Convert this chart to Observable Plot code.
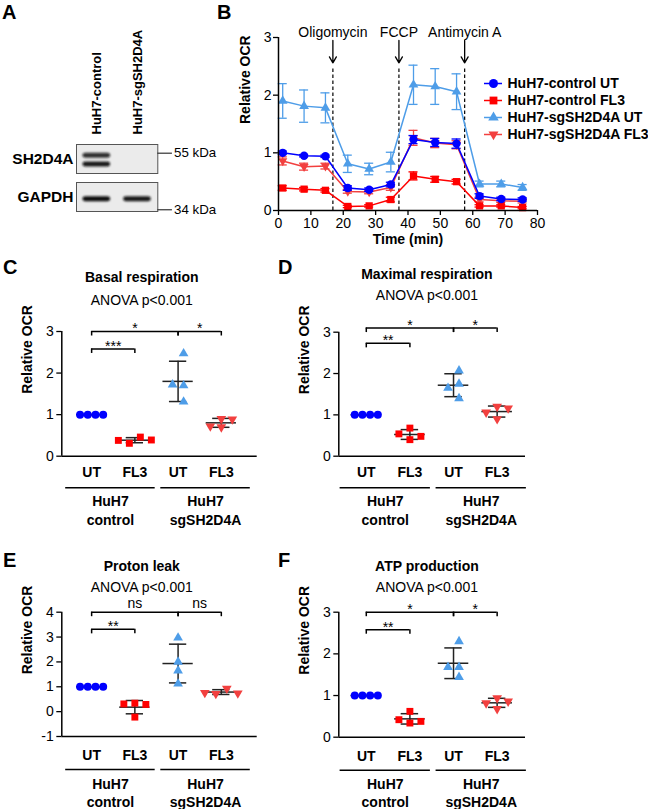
<!DOCTYPE html>
<html><head><meta charset="utf-8">
<script src="https://cdn.jsdelivr.net/npm/d3@7"></script>
<script src="https://cdn.jsdelivr.net/npm/@observablehq/plot@0.6"></script>
<style>
html,body{margin:0;padding:0;background:#fff;}
#fig{position:relative;width:648px;height:809px;overflow:hidden;font-family:"Liberation Sans",Arial,Helvetica,sans-serif;color:#000;background:#fff;}
.letter{position:absolute;font-weight:bold;font-size:20px;line-height:1;}
</style></head><body><div id="fig"></div>
<script>
// ================= DATA =================
// Panel A – western blot
const laneNames = ["HuH7-control", "HuH7-sgSH2D4A"];
const blotProteins = ["SH2D4A", "GAPDH"];
const blotBands = [
  {protein: "SH2D4A", lane: 0, pos: 0.39, intensity: 0.85},
  {protein: "SH2D4A", lane: 0, pos: 0.69, intensity: 0.95},
  {protein: "GAPDH", lane: 0, pos: 0.58, intensity: 1.0},
  {protein: "GAPDH", lane: 1, pos: 0.58, intensity: 0.95}
];
const sizeMarkers = [
  {protein: "SH2D4A", pos: 0.30, label: "55 kDa"},
  {protein: "GAPDH", pos: 0.94, label: "34 kDa"}
];

// Panel B – Seahorse time course
const times = [1.3, 7.9, 14.5, 21.4, 28.0, 34.7, 41.7, 48.4, 55.0, 62.1, 68.8, 75.4];
const injections = [
  {t: 16.8, name: "Oligomycin"},
  {t: 37.2, name: "FCCP"},
  {t: 57.5, name: "Antimycin A"}
];
const seriesNames = ["HuH7-control UT", "HuH7-control FL3", "HuH7-sgSH2D4A UT", "HuH7-sgSH2D4A FL3"];
const ctrlUT     = [1.00, 0.95, 0.94, 0.39, 0.36, 0.45, 1.23, 1.18, 1.16, 0.25, 0.20, 0.19];
const ctrlUTsd   = [0.03, 0.02, 0.02, 0.04, 0.03, 0.04, 0.07, 0.07, 0.08, 0.04, 0.03, 0.03];
const ctrlFL3    = [0.39, 0.37, 0.35, 0.07, 0.08, 0.19, 0.60, 0.54, 0.50, 0.08, 0.08, 0.05];
const ctrlFL3sd  = [0.04, 0.03, 0.03, 0.02, 0.02, 0.04, 0.07, 0.05, 0.04, 0.02, 0.02, 0.02];
const sgUT       = [1.90, 1.81, 1.78, 0.81, 0.72, 0.84, 2.18, 2.15, 2.06, 0.46, 0.46, 0.40];
const sgUTsd     = [0.30, 0.28, 0.26, 0.15, 0.10, 0.17, 0.34, 0.31, 0.31, 0.05, 0.05, 0.05];
const sgFL3      = [0.86, 0.76, 0.77, 0.33, 0.32, 0.40, 1.26, 1.17, 1.14, 0.19, 0.17, 0.16];
const sgFL3sd    = [0.07, 0.06, 0.05, 0.03, 0.03, 0.05, 0.13, 0.08, 0.07, 0.04, 0.03, 0.03];
const timeTicks = [0, 10, 20, 30, 40, 50, 60, 70, 80];
const ocrTicksB = [0, 1, 2, 3];

// Panels C–F – individual replicates per group
const treatCats = ["UT", "FL3", "UT", "FL3"];
const cellLines = ["HuH7\ncontrol", "HuH7\nsgSH2D4A"];
const basal        = [[1, 1, 1, 1], [0.46, 0.31, 0.39, 0.38], [2.47, 1.70, 1.72, 1.31], [0.90, 0.72, 0.70, 0.89]];
const maximal      = [[1, 1, 1, 1], [0.40, 0.68, 0.54, 0.48], [2.07, 1.75, 1.65, 1.40], [1.20, 1.06, 0.90, 1.16]];
const protonLeak   = [[1, 1, 1, 1], [0.34, 0.31, -0.22, 0.29], [2.97, 2.00, 1.65, 1.12], [0.93, 0.72, 0.74, 0.76]];
const atpProduction= [[1, 1, 1, 1], [0.34, 0.62, 0.42, 0.38], [2.30, 1.68, 1.68, 1.44], [0.94, 0.82, 0.68, 0.86]];
// significance: [ctrl UT vs ctrl FL3, ctrl UT vs sg UT, sg UT vs sg FL3]
const sigBasal   = ["***", "*", "*"];
const sigMaximal = ["**", "*", "*"];
const sigProton  = ["**", "ns", "ns"];
const sigATP     = ["**", "*", "*"];
const anovaText = "ANOVA p<0.001";

// ================= STYLE =================
const FONT = '"Liberation Sans", Arial, Helvetica, sans-serif';
const BLUE = "#0000ff", RED = "#ff0000", LBLUE = "#4e9de8", RED2 = "#f2403f";
const baseStyle = {fontFamily: FONT, fontSize: "14px", color: "#000", background: "transparent", overflow: "visible"};
const downTriangle = {
  draw(ctx, size) {
    const s3 = Math.sqrt(3);
    const y = -Math.sqrt(size / (s3 * 3));
    ctx.moveTo(0, -y * 2);
    ctx.lineTo(-s3 * y, y);
    ctx.lineTo(s3 * y, y);
    ctx.closePath();
  }
};
const fig = document.getElementById("fig");
function place(el, left, top) {
  el.style.position = "absolute";
  el.style.left = left + "px";
  el.style.top = top + "px";
  fig.appendChild(el);
  return el;
}
function letter(t, left, top) {
  const d = document.createElement("div");
  d.className = "letter"; d.textContent = t;
  d.style.left = left + "px"; d.style.top = top + "px";
  fig.appendChild(d);
}

// ================= PANEL A =================
const plotA = Plot.plot({
  width: 215, height: 230,
  marginLeft: 76, marginRight: 57.7, marginTop: 143.3, marginBottom: 19.3,
  style: {...baseStyle, fontSize: "13px"},
  x: {domain: [-0.5, 1.5]},
  y: {domain: [0, 1], reverse: true, axis: null},
  fy: {domain: blotProteins, paddingInner: 0.24, paddingOuter: 0},
  marks: [
    Plot.frame({fill: "#ebebeb", stroke: "#555", strokeWidth: 1}),
    Plot.rect(blotBands, {fy: "protein", x1: d => d.lane - 0.34, x2: d => d.lane + 0.34,
      y1: d => d.pos - 0.085, y2: d => d.pos + 0.085, rx: 3, fill: "#111", fillOpacity: "intensity"}),
    Plot.axisFy({anchor: "left", tickSize: 0, tickPadding: 3, fontWeight: "bold", fontSize: 15.5, label: null}),
    Plot.axisX([0, 1], {anchor: "top", tickSize: 0, tickPadding: 10, tickRotate: -90,
      tickFormat: i => laneNames[i], fontWeight: "bold", fontSize: 13, label: null}),
    Plot.ruleY(sizeMarkers, {fy: "protein", y: "pos", x1: 1.5, x2: 1.86, stroke: "#333", strokeWidth: 1.2}),
    Plot.text(sizeMarkers, {fy: "protein", y: "pos", x: 1.9, text: "label", textAnchor: "start", fontSize: 13.3})
  ]
});
{
  const s = d3.select(plotA);
  s.insert("defs", ":first-child").append("filter").attr("id", "blurA")
    .append("feGaussianBlur").attr("stdDeviation", 0.8);
  s.selectAll('g[aria-label="rect"]').attr("filter", "url(#blurA)");
}
place(plotA, 0, 0);

// ================= PANEL B =================
const seriesB = [
  {name: seriesNames[0], values: ctrlUT, sd: ctrlUTsd, color: BLUE, symbol: "circle", r: 4.2},
  {name: seriesNames[1], values: ctrlFL3, sd: ctrlFL3sd, color: RED, symbol: "square", r: 4.1},
  {name: seriesNames[2], values: sgUT, sd: sgUTsd, color: LBLUE, symbol: "triangle", r: 3.6},
  {name: seriesNames[3], values: sgFL3, sd: sgFL3sd, color: RED2, symbol: downTriangle, r: 3.4}
];
const drawOrder = [3, 2, 1, 0];
const capB = 1.4;
const seriesMarks = drawOrder.flatMap(k => {
  const s = seriesB[k];
  const rows = times.map((t, i) => ({t, v: s.values[i], sd: s.sd[i]}));
  return [
    Plot.line(rows, {x: "t", y: "v", stroke: s.color, strokeWidth: 1.5}),
    Plot.ruleX(rows, {x: "t", y1: d => d.v - d.sd, y2: d => d.v + d.sd, stroke: s.color, strokeWidth: 1.3}),
    Plot.ruleY(rows, {y: d => d.v + d.sd, x1: d => d.t - capB, x2: d => d.t + capB, stroke: s.color, strokeWidth: 1.3}),
    Plot.ruleY(rows, {y: d => d.v - d.sd, x1: d => d.t - capB, x2: d => d.t + capB, stroke: s.color, strokeWidth: 1.3}),
    Plot.dot(rows, {x: "t", y: "v", symbol: s.symbol, r: s.r, fill: s.color, stroke: "none"})
  ];
});
const plotB = Plot.plot({
  width: 458, height: 254,
  marginLeft: 88, marginRight: 111, marginTop: 37, marginBottom: 44,
  style: baseStyle,
  x: {domain: [0, 80]},
  y: {domain: [0, 3]},
  marks: [
    Plot.ruleX(injections, {x: "t", y1: 0, y2: 2.46, stroke: "#000", strokeWidth: 1.2, strokeDasharray: "3.5,2.5"}),
    Plot.arrow(injections, {x1: "t", x2: "t", y1: 2.95, y2: 2.56, stroke: "#000", strokeWidth: 1.3, headLength: 8}),
    Plot.text(injections, {x: "t", text: "name", frameAnchor: "top", dy: -10}),
    ...seriesMarks,
    Plot.ruleX([0], {stroke: "#000", strokeWidth: 1.5}),
    Plot.ruleY([0], {stroke: "#000", strokeWidth: 1.5}),
    Plot.axisX(timeTicks, {tickSize: 5, tickPadding: 3, strokeWidth: 1.3, tickFormat: d => String(d), label: null}),
    Plot.axisY(ocrTicksB, {tickSize: 5, tickPadding: 2, strokeWidth: 1.3, tickFormat: d => String(d), label: null}),
    Plot.text(["Relative OCR"], {frameAnchor: "left", dx: -33, rotate: -90, fontWeight: "bold"}),
    Plot.text(["Time (min)"], {frameAnchor: "bottom", dy: 33.5, fontWeight: "bold"})
  ]
});
place(plotB, 190, 0);

// legend for B
const legendB = Plot.plot({
  width: 170, height: 72, margin: 0,
  style: baseStyle,
  x: {domain: [0, 170], axis: null},
  y: {type: "point", domain: seriesNames, range: [10.7, 62.3], padding: 0, axis: null},
  marks: [
    ...seriesB.map(s => Plot.ruleY([s.name], {x1: 4, x2: 22, stroke: s.color, strokeWidth: 1.5})),
    ...seriesB.map(s => Plot.dot([s.name], {x: 13, y: d => d, symbol: s.symbol, r: s.r + 0.3, fill: s.color, stroke: "none"})),
    Plot.text(seriesNames, {x: 27, y: d => d, text: d => d, textAnchor: "start", fontWeight: "bold"})
  ]
});
place(legendB, 480, 72);

// ================= PANELS C–F =================
const groupStyles = [
  {color: BLUE, symbol: "circle", r: 4.0, spacing: 7.7},
  {color: RED, symbol: "square", r: 3.9, spacing: 11},
  {color: LBLUE, symbol: "triangle", r: 3.6, spacing: 11},
  {color: RED2, symbol: downTriangle, r: 3.6, spacing: 11}
];
function scatterPanel(o) {
  const {values, sig, title, yDomain, yTicks, width, height, mL, mR, mT, mB, xDomain,
         titleX, titleDy, anovaDy, topLevel, lowLevel, labelPad, lineDy, groupDy} = o;
  const ky = (height - mT - mB) / (yDomain[1] - yDomain[0]);
  const kx = (width - mL - mR) / (xDomain[1] - xDomain[0]);
  // GraphPad-like horizontal spreading of colliding points
  const pts = [];
  values.forEach((vals, g) => {
    const st = groupStyles[g];
    const placed = [];
    vals.forEach(v => {
      const cands = [0];
      for (let k = 1; k < 6; k++) cands.push(-k, k);
      for (const c of cands) {
        if (placed.every(p => Math.abs(p.c - c) >= 1 || Math.abs(p.v - v) * ky >= 8)) {
          placed.push({v, c}); break;
        }
      }
    });
    const shift = (d3.min(placed, p => p.c) + d3.max(placed, p => p.c)) / 2;
    placed.forEach(p => pts.push({g, v: p.v, x: g + (p.c - shift) * st.spacing / kx}));
  });
  const stats = values.map((vals, g) => ({g, mean: d3.mean(vals), sd: d3.deviation(vals) || 0}));
  const tl = 4.5 / ky;
  const comps = [
    {a: 0, b: 1, level: lowLevel, label: sig[0]},
    {a: 0, b: 2, level: topLevel, label: sig[1]},
    {a: 2, b: 3, level: topLevel, label: sig[2]}
  ];
  const ends = comps.flatMap(c => [{x: c.a, level: c.level}, {x: c.b, level: c.level}]);
  const groups = cellLines.map((label, i) => ({label, x1: 2 * i - 0.6 + 0.2 * i, x2: 2 * i + 1.47 + 0.2 * i}));
  const line = {stroke: "#222", strokeWidth: 1.5};
  return Plot.plot({
    width, height, marginLeft: mL, marginRight: mR, marginTop: mT, marginBottom: mB,
    style: baseStyle,
    x: {domain: xDomain},
    y: {domain: yDomain},
    marks: [
      Plot.text([title], {x: titleX, frameAnchor: "top", dy: titleDy, fontWeight: "bold"}),
      Plot.text([anovaText], {x: titleX, frameAnchor: "top", dy: anovaDy}),
      Plot.ruleY(comps, {y: "level", x1: "a", x2: "b", stroke: "#000", strokeWidth: 1.5}),
      Plot.ruleX(ends, {x: "x", y1: "level", y2: d => d.level - tl, stroke: "#000", strokeWidth: 1.5}),
      Plot.text(comps.filter(c => c.label !== "ns"), {x: d => (d.a + d.b) / 2, y: "level", text: "label", dy: -2.5}),
      Plot.text(comps.filter(c => c.label === "ns"), {x: d => (d.a + d.b) / 2, y: "level", text: "label", dy: -8.5}),
      Plot.ruleX(stats, {x: "g", y1: d => d.mean - d.sd, y2: d => d.mean + d.sd, ...line}),
      Plot.ruleY(stats, {y: "mean", x1: d => d.g - 0.35, x2: d => d.g + 0.35, ...line}),
      Plot.ruleY(stats, {y: d => d.mean + d.sd, x1: d => d.g - 0.2, x2: d => d.g + 0.2, ...line}),
      Plot.ruleY(stats, {y: d => d.mean - d.sd, x1: d => d.g - 0.2, x2: d => d.g + 0.2, ...line}),
      ...groupStyles.map((st, g) => Plot.dot(pts.filter(p => p.g === g),
        {x: "x", y: "v", symbol: st.symbol, r: st.r, fill: st.color, stroke: "none"})),
      Plot.ruleX([xDomain[0]], {stroke: "#000", strokeWidth: 1.5}),
      Plot.ruleY([yDomain[0]], {stroke: "#000", strokeWidth: 1.5}),
      Plot.axisY(yTicks, {tickSize: 5, tickPadding: 3, strokeWidth: 1.3, tickFormat: d => String(d), label: null}),
      Plot.axisX([0, 1, 2, 3], {tickSize: 0, tickPadding: labelPad, tickFormat: i => treatCats[i], fontWeight: "bold", label: null}),
      Plot.ruleY(groups, {y: yDomain[0], x1: "x1", x2: "x2", dy: lineDy, stroke: "#000", strokeWidth: 1.5}),
      Plot.text(groups, {x: d => (d.x1 + d.x2) / 2, y: yDomain[0], text: "label", dy: groupDy, fontWeight: "bold", lineHeight: 1.3}),
      Plot.text(["Relative OCR"], {frameAnchor: "left", dx: -34, rotate: -90, fontWeight: "bold"})
    ]
  });
}
const leftCol = {width: 285, mL: 61.3, mR: 28.3, xDomain: [-0.69, 3.83], titleX: 1.16};
const rightCol = {width: 363, mL: 53.3, mR: 123, xDomain: [-0.63, 3.65], titleX: 1.39};
const topRow = {height: 285, mB: 84.3, labelPad: 11, lineDy: 31.6, groupDy: 53.5};
const botRow = {height: 274, labelPad: 14, lineDy: 33, groupDy: 55.3};

place(scatterPanel({...leftCol, ...topRow, mT: 76, values: basal, sig: sigBasal, title: "Basal respiration",
  yDomain: [0, 3], yTicks: [0, 1, 2, 3], titleDy: -59, anovaDy: -36, topLevel: 3.0, lowLevel: 2.58}), 0, 255);
place(scatterPanel({...rightCol, ...topRow, mT: 76.7, values: maximal, sig: sigMaximal, title: "Maximal respiration",
  yDomain: [0, 3], yTicks: [0, 1, 2, 3], titleDy: -63, anovaDy: -41.7, topLevel: 3.1, lowLevel: 2.73}), 285, 255);
place(scatterPanel({...leftCol, ...botRow, mT: 76.7, mB: 73, values: protonLeak, sig: sigProton, title: "Proton leak",
  yDomain: [-1, 4], yTicks: [-1, 0, 1, 2, 3, 4], titleDy: -51, anovaDy: -30.5, topLevel: 4.0, lowLevel: 3.31}), 0, 535);
place(scatterPanel({...rightCol, ...botRow, mT: 76.7, mB: 72.3, values: atpProduction, sig: sigATP, title: "ATP production",
  yDomain: [0, 3], yTicks: [0, 1, 2, 3], titleDy: -51, anovaDy: -30.5, topLevel: 3.0, lowLevel: 2.58}), 285, 535);

// panel letters
letter("A", 2, 2); letter("B", 217, 2);
letter("C", 3, 257); letter("D", 278, 257);
letter("E", 3, 550); letter("F", 278, 550);
</script></body></html>
